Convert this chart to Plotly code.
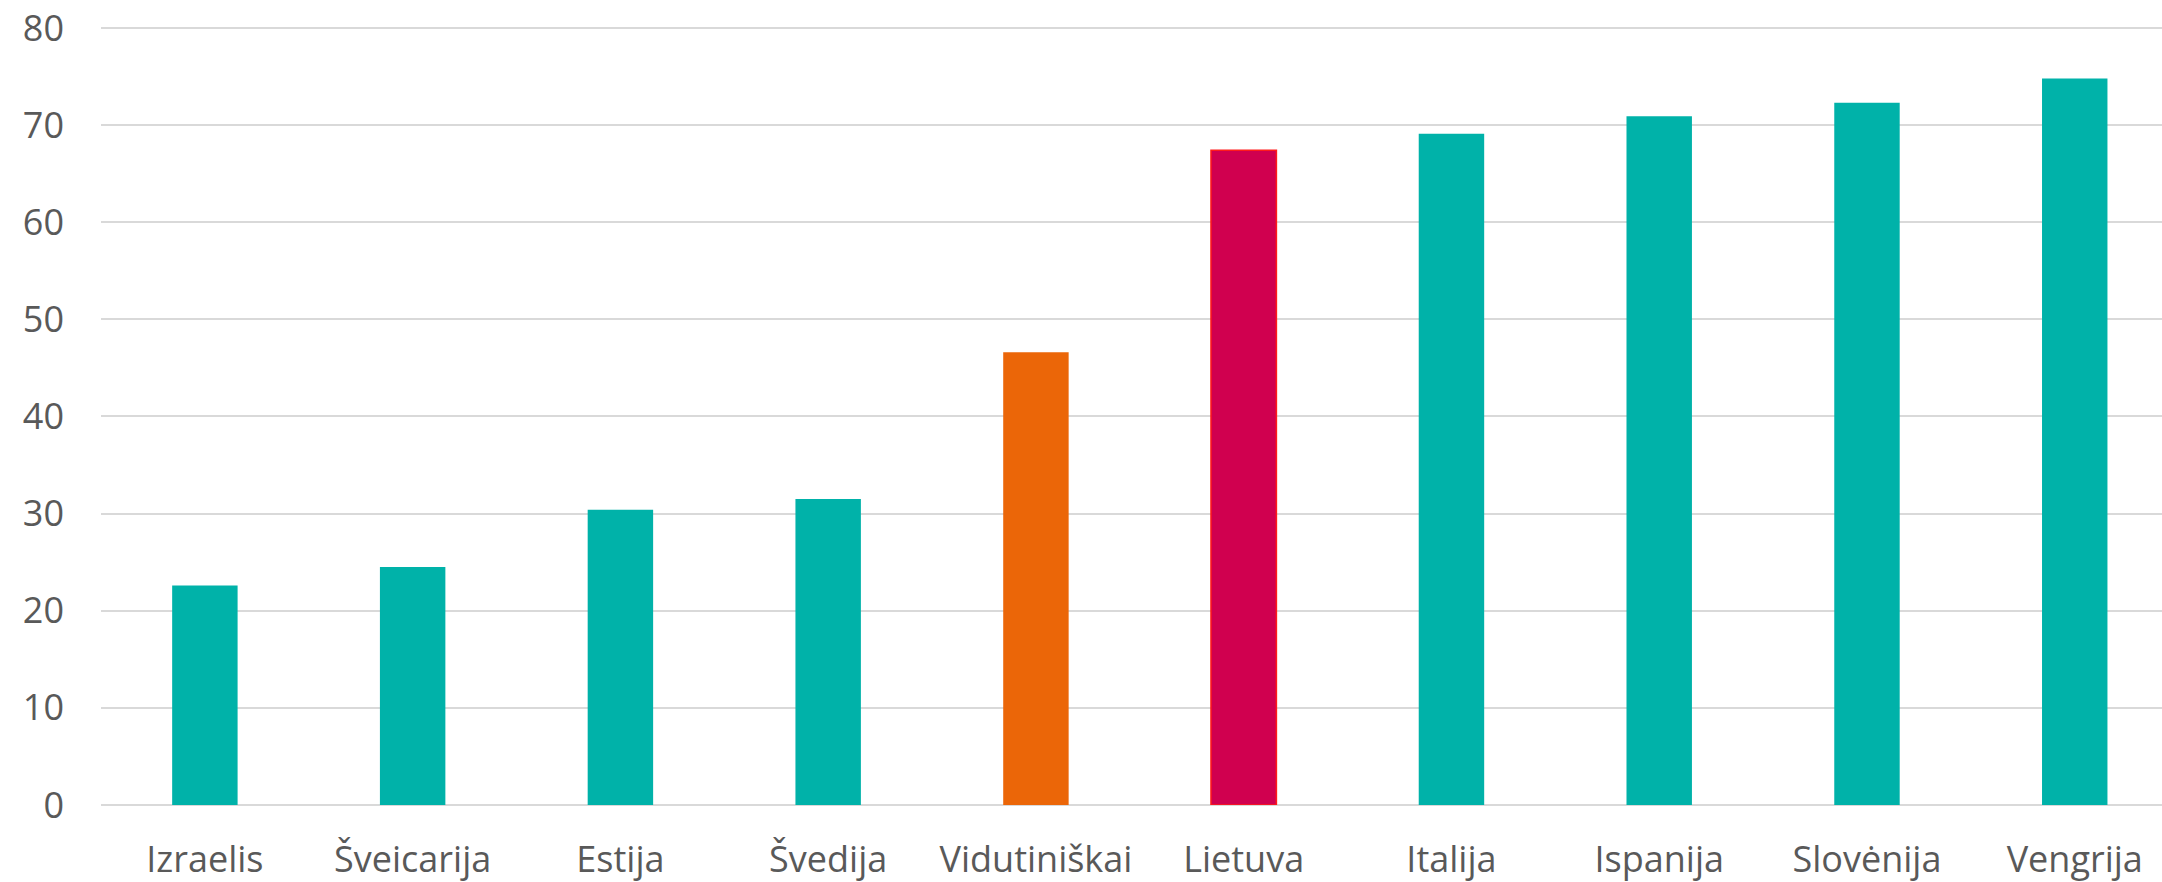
import plotly.graph_objects as go

categories = ["Izraelis", "Šveicarija", "Estija", "Švedija", "Vidutiniškai",
              "Lietuva", "Italija", "Ispanija", "Slovėnija", "Vengrija"]
values = [22.6, 24.5, 30.4, 31.5, 46.6, 67.4, 69.1, 70.9, 72.3, 74.8]
y_ticks = [0, 10, 20, 30, 40, 50, 60, 70, 80]

TEAL = "#00B2A9"
ORANGE = "#EB6608"
CRIMSON = "#D0004F"
colors = [TEAL] * len(categories)
colors[categories.index("Vidutiniškai")] = ORANGE
colors[categories.index("Lietuva")] = CRIMSON
line_colors = ["rgba(0,0,0,0)"] * len(categories)
line_widths = [0] * len(categories)
line_colors[categories.index("Lietuva")] = "#FF1A1A"
line_widths[categories.index("Lietuva")] = 1.5

fig = go.Figure(go.Bar(
    x=categories, y=values,
    marker=dict(color=colors, line=dict(color=line_colors, width=line_widths)),
    width=0.315,
))

font = dict(family="Open Sans", size=36, color="#595959")
fig.update_layout(
    width=2162, height=882,
    margin=dict(l=101, r=0, t=26, b=77),
    paper_bgcolor="white", plot_bgcolor="white",
    showlegend=False,
    font=font,
)
fig.update_xaxes(
    range=[-0.5, 9.42], showgrid=False, zeroline=False, showline=False,
    ticks="", ticklabelstandoff=30, tickfont=font, automargin=False,
)
fig.update_yaxes(
    range=[0, 80.2], tickvals=y_ticks, showgrid=True, gridcolor="#D9D9D9", gridwidth=1.5,
    zeroline=True, zerolinecolor="#D9D9D9", zerolinewidth=1.5, showline=False,
    ticks="", ticklabelstandoff=36, tickfont=font, ticklabeloverflow="allow",
    automargin=False,
)
fig.write_html("out.html", config={"displayModeBar": False},
               post_script="document.body.style.margin='0';")
